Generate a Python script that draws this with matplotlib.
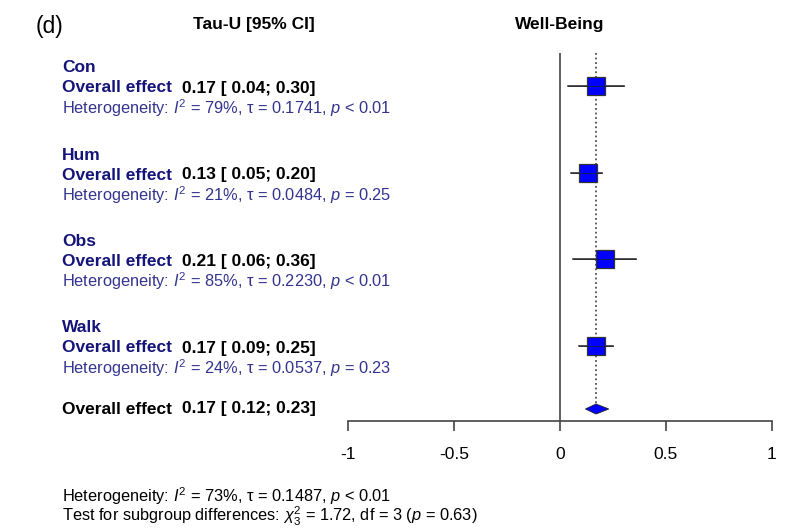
import matplotlib.pyplot as plt

plt.rcParams['font.family'] = ['Liberation Sans', 'DejaVu Sans']
plt.rcParams['mathtext.fontset'] = 'custom'
plt.rcParams['mathtext.rm'] = 'Liberation Sans'
plt.rcParams['mathtext.it'] = 'Liberation Sans:italic'
plt.rcParams['mathtext.bf'] = 'Liberation Sans:bold'

# subgroup results (Tau-U, Well-Being)
groups = ["Con", "Hum", "Obs", "Walk"]
est = [0.17, 0.13, 0.21, 0.17]
lower = [0.04, 0.05, 0.06, 0.09]
upper = [0.30, 0.20, 0.36, 0.25]
i2 = ["79%", "21%", "85%", "24%"]
tau = ["0.1741", "0.0484", "0.2230", "0.0537"]
pval = ["< 0.01", "= 0.25", "< 0.01", "= 0.23"]

overall = 0.17
overall_lo = 0.12
overall_hi = 0.23
xticks = [-1, -0.5, 0, 0.5, 1]
xtick_labels = ["-1", "-0.5", "0", "0.5", "1"]

# row positions (pixel rows from top)
row_y = [86, 173, 259, 346]
overall_y = 409

W, H = 785, 528
fig = plt.figure(figsize=(W / 100, H / 100), dpi=100)

# forest panel: x from -1..1 spans 348..772 px, y rows 53..421 px
ax = fig.add_axes([348 / W, 1 - 421 / H, 424 / W, (421 - 53) / H])
ax.set_xlim(-1, 1)
ax.set_ylim(421, 53)
for s in ["top", "left", "right"]:
    ax.spines[s].set_visible(False)
ax.spines["bottom"].set_color("#444444")
ax.spines["bottom"].set_linewidth(1.2)
ax.set_yticks([])
ax.set_xticks(xticks)
ax.set_xticklabels(xtick_labels, fontsize=12.5)
ax.tick_params(axis="x", length=7, width=1.2, color="#444444", pad=12)

ax.axvline(0, color="#444444", lw=1.2)
ax.plot([overall, overall], [53, overall_y], color="#333333", lw=1.1, ls=(0, (1.2, 1.8)))

for y, e, lo, hi in zip(row_y, est, lower, upper):
    ax.plot([lo, hi], [y, y], color="#222222", lw=1.1, zorder=2)
    ax.plot(e, y, marker="s", ms=13.5, mfc="#0000ff", mec="#333333", mew=0.9, zorder=3)
    ax.plot([lo, hi], [y, y], color="#222222", lw=0.5, zorder=4)

ax.fill([overall_lo, overall, overall_hi, overall],
        [overall_y, overall_y - 5, overall_y, overall_y + 5],
        color="#0000ff", ec="#222222", lw=0.6, zorder=3)


def ftext(x, y, s, **kw):
    fig.text(x / W, 1 - y / H, s, va="center", **kw)


navy = "#14147a"
slate = "#34348f"

ftext(36, 26, "(d)", fontsize=16.5)
ftext(254, 25, "Tau-U [95% CI]", fontsize=12.5, fontweight="bold", ha="center")
ftext(560, 25, "Well-Being", fontsize=12.5, fontweight="bold", ha="center")

for k, g in enumerate(groups):
    y = row_y[k]
    ftext(62, y - 18, g, fontsize=12.5, fontweight="bold", color=navy)
    ftext(62, y + 2, "Overall effect", fontsize=12.5, fontweight="bold", color=navy)
    ftext(182, y + 2, f"{est[k]:.2f} [ {lower[k]:.2f}; {upper[k]:.2f}]",
          fontsize=12.5, fontweight="bold", color="black")
    ftext(62, y + 22, f"Heterogeneity: $I^2$ = {i2[k]}, τ = {tau[k]}, $p$ {pval[k]}",
          fontsize=11.8, color=slate)

ftext(62, overall_y, "Overall effect", fontsize=12.5, fontweight="bold")
ftext(182, overall_y, f"{overall:.2f} [ {overall_lo:.2f}; {overall_hi:.2f}]",
      fontsize=12.5, fontweight="bold")

ftext(62, 496, "Heterogeneity: $I^2$ = 73%, τ = 0.1487, $p$ < 0.01", fontsize=11.8)
ftext(62, 516, "Test for subgroup differences: $\\chi^2_3$ = 1.72, df = 3 ($p$ = 0.63)", fontsize=11.8)

fig.savefig("out.png", dpi=100)
